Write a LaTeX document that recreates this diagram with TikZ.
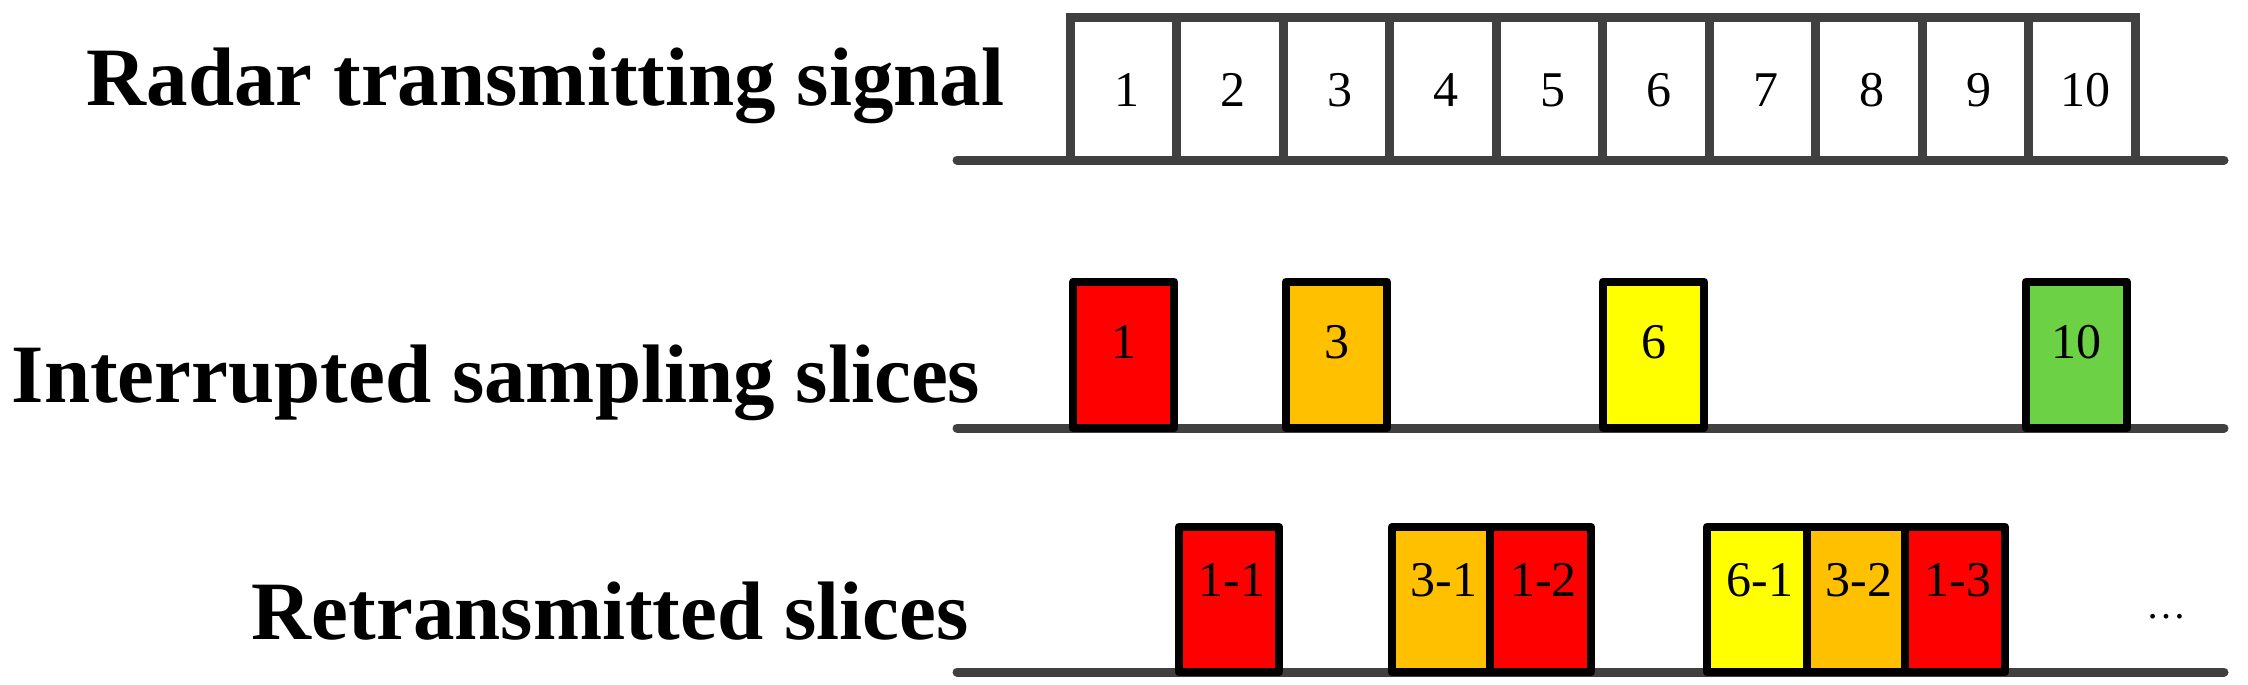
\documentclass[tikz,border=0pt]{standalone}
\usepackage{fontspec}
\setmainfont{Liberation Serif}
\usepackage{tikz}
\definecolor{axisgray}{HTML}{404040}
\definecolor{slicered}{HTML}{FF0000}
\definecolor{sliceorange}{HTML}{FFC000}
\definecolor{sliceyellow}{HTML}{FFFF00}
\definecolor{slicegreen}{HTML}{6CD144}

\begin{document}
\begin{tikzpicture}[x=0.25pt,y=-0.25pt,
    axis/.style={draw=axisgray,line width=2.25pt},
    slicebox/.style={draw=black,line width=2.2pt,line join=round},
    rowlabel/.style={anchor=base west,inner sep=0pt,font=\fontsize{20.75pt}{24pt}\selectfont\bfseries},
    num/.style={anchor=base,inner sep=0pt,font=\fontsize{12.5pt}{15pt}\selectfont}]
  \useasboundingbox (0,0) rectangle (2248,685);
  % row labels
  \node[rowlabel] (lblradar) at (86,105) {Radar transmitting signal};
  \node[rowlabel] (lblsampling) at (11,402) {Interrupted sampling slices};
  \node[rowlabel] (lblretrans) at (251,639) {Retransmitted slices};
  % time axes
  \draw[axis,line cap=round] (957,160) -- (2224,160);
  \draw[axis,line cap=round] (957,428) -- (2224,428);
  \draw[axis,line cap=round] (957,672) -- (2224,672);
  % transmitted signal
  \draw[axis] (1070,160) -- (1070,17.5) -- (2135,17.5) -- (2135,160);
  \foreach \k in {1,...,9}
    \draw[axis] (1070+106.5*\k,17.5) -- (1070+106.5*\k,160);
  \foreach \k in {1,...,10}
    \node[num] (t\k) at (1070+106.5*\k-50,106) {\k};
  % sampled slices
  \foreach \x/\c/\n in {1073/slicered/1,1286/sliceorange/3,1603/sliceyellow/6,2026/slicegreen/10}{
    \filldraw[slicebox,fill=\c] (\x,282) rectangle ++(101,146);
    \node[num] (s\n) at (\x+50.5,358) {\n};
  }
  % retransmitted slices
  \foreach \l/\r/\c/\n in {1179/1279/slicered/1-1,1392/1490/sliceorange/3-1,1490/1591/slicered/1-2,
                           1707/1807/sliceyellow/6-1,1807/1905/sliceorange/3-2,1905/2005/slicered/1-3}{
    \fill[\c] (\l,527) rectangle (\r,672);
    \node[num] (r\n) at ({(\l+\r)/2+3},596) {\n};
  }
  \draw[slicebox] (1179,527) rectangle (1279,672);
  \draw[slicebox] (1392,527) rectangle (1591,672) (1490,527) -- (1490,672);
  \draw[slicebox] (1707,527) rectangle (2005,672) (1807,527) -- (1807,672) (1905,527) -- (1905,672);
  \node[inner sep=0pt,anchor=base,font=\fontsize{10pt}{12pt}\selectfont] (more) at (2166,618) {…};
\end{tikzpicture}
\end{document}
